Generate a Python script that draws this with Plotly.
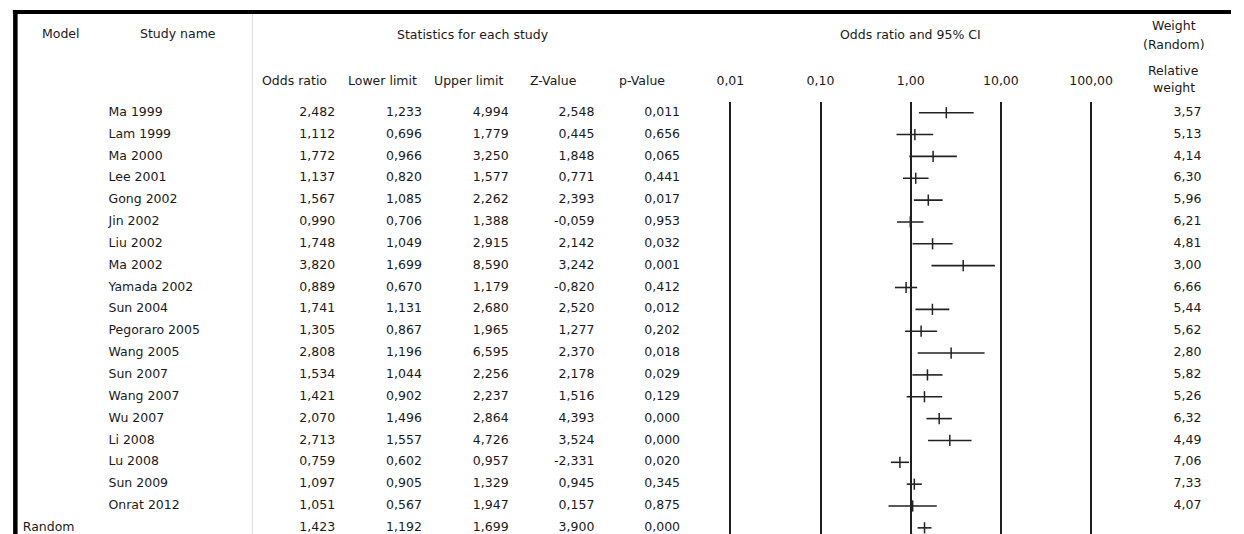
import plotly.graph_objects as go

W, H = 1244, 534

# ---------------- data ----------------
studies = ["Ma 1999", "Lam 1999", "Ma 2000", "Lee 2001", "Gong 2002", "Jin 2002",
           "Liu 2002", "Ma 2002", "Yamada 2002", "Sun 2004", "Pegoraro 2005",
           "Wang 2005", "Sun 2007", "Wang 2007", "Wu 2007", "Li 2008", "Lu 2008",
           "Sun 2009", "Onrat 2012"]
odds_ratio = [2.482, 1.112, 1.772, 1.137, 1.567, 0.990, 1.748, 3.820, 0.889, 1.741,
              1.305, 2.808, 1.534, 1.421, 2.070, 2.713, 0.759, 1.097, 1.051]
lower_limit = [1.233, 0.696, 0.966, 0.820, 1.085, 0.706, 1.049, 1.699, 0.670, 1.131,
               0.867, 1.196, 1.044, 0.902, 1.496, 1.557, 0.602, 0.905, 0.567]
upper_limit = [4.994, 1.779, 3.250, 1.577, 2.262, 1.388, 2.915, 8.590, 1.179, 2.680,
               1.965, 6.595, 2.256, 2.237, 2.864, 4.726, 0.957, 1.329, 1.947]
z_value = [2.548, 0.445, 1.848, 0.771, 2.393, -0.059, 2.142, 3.242, -0.820, 2.520,
           1.277, 2.370, 2.178, 1.516, 4.393, 3.524, -2.331, 0.945, 0.157]
p_value = [0.011, 0.656, 0.065, 0.441, 0.017, 0.953, 0.032, 0.001, 0.412, 0.012,
           0.202, 0.018, 0.029, 0.129, 0.000, 0.000, 0.020, 0.345, 0.875]
rel_weight = [3.57, 5.13, 4.14, 6.30, 5.96, 6.21, 4.81, 3.00, 6.66, 5.44,
              5.62, 2.80, 5.82, 5.26, 6.32, 4.49, 7.06, 7.33, 4.07]

random_label = "Random"
random_or = 1.423
random_lower = 1.192
random_upper = 1.699
random_z = 3.900
random_p = 0.000

tick_vals = [0.01, 0.1, 1, 10, 100]
tick_text = ["0,01", "0,10", "1,00", "10,00", "100,00"]

# ---------------- helpers ----------------
def fmt(v, d=3):
    return f"{v:.{d}f}".replace(".", ",")

def px(x):
    return x / W

def py(y):
    return 1 - y / H

FONT = "DejaVu Sans"
FS = 12.5
TXT = "#1a1a1a"
INK = "#222222"

n = len(studies)
rows = list(range(n))
random_row = n
all_rows = rows + [random_row]

# y geometry: first row centre at 112.7px, spacing 21.85px, plot top at 102px
row_h = 21.85
top_px = 102.0
first_px = 112.7
y_top = -(first_px - top_px) / row_h
y_bot = y_top + (H - top_px) / row_h

fig = go.Figure()

# ---------------- forest plot ----------------
err_plus = [u - o for u, o in zip(upper_limit, odds_ratio)]
err_minus = [o - l for o, l in zip(odds_ratio, lower_limit)]
marker_style = dict(symbol="line-ns-open", size=8, color=INK, line=dict(width=1.5, color=INK))
fig.add_trace(go.Scatter(
    x=odds_ratio, y=rows, mode="markers", xaxis="x", yaxis="y",
    marker=marker_style,
    error_x=dict(type="data", symmetric=False, array=err_plus, arrayminus=err_minus,
                 thickness=1.6, width=0, color=INK),
    cliponaxis=False, hoverinfo="skip"))
fig.add_trace(go.Scatter(
    x=[random_or], y=[random_row], mode="markers", xaxis="x", yaxis="y",
    marker=marker_style,
    error_x=dict(type="data", symmetric=False, array=[random_upper - random_or],
                 arrayminus=[random_or - random_lower], thickness=1.6, width=0, color=INK),
    cliponaxis=False, hoverinfo="skip"))

# ---------------- text columns ----------------
def text_col(xpos, texts, yrows, pos="middle left"):
    fig.add_trace(go.Scatter(
        x=[xpos] * len(texts), y=yrows, text=texts, mode="text", xaxis="x2", yaxis="y",
        textposition=pos, textfont=dict(family=FONT, size=FS, color=TXT),
        cliponaxis=False, hoverinfo="skip"))

text_col(105, studies, rows, "middle right")
text_col(18, [random_label], [random_row], "middle right")
text_col(335, [fmt(v) for v in odds_ratio + [random_or]], all_rows)
text_col(423, [fmt(v) for v in lower_limit + [random_lower]], all_rows)
text_col(511, [fmt(v) for v in upper_limit + [random_upper]], all_rows)
text_col(598, [fmt(v) for v in z_value + [random_z]], all_rows)
text_col(685, [fmt(v) for v in p_value + [random_p]], all_rows)
text_col(1214, [fmt(v, 2) for v in rel_weight], rows)

# ---------------- axes ----------------
dec = 91.5
lo_px = 736 - 0.1 * dec
hi_px = 1102 + 0.1 * dec
fig.update_layout(
    width=W, height=H, margin=dict(l=0, r=0, t=0, b=0),
    paper_bgcolor="white", plot_bgcolor="rgba(0,0,0,0)", showlegend=False,
    xaxis=dict(type="log", range=[-2.1, 2.1], domain=[px(lo_px), px(hi_px)], anchor="y",
               side="top", tickvals=tick_vals, ticktext=tick_text, ticks="",
               showgrid=True, gridcolor="#1e1e1e", gridwidth=1.8, zeroline=False,
               showline=False, ticklabelstandoff=14,
               tickfont=dict(family=FONT, size=FS, color=TXT)),
    xaxis2=dict(range=[0, W], domain=[0, 1], anchor="y", visible=False),
    yaxis=dict(range=[y_bot, y_top], domain=[0, py(top_px)], visible=False),
)

# ---------------- frame ----------------
fig.add_shape(type="line", xref="paper", yref="paper", x0=px(8), x1=1, y0=py(12), y1=py(12),
              line=dict(color="black", width=4))
fig.add_shape(type="line", xref="paper", yref="paper", x0=px(10.5), x1=px(10.5), y0=py(10), y1=0,
              line=dict(color="black", width=4.5))
fig.add_shape(type="line", xref="paper", yref="paper", x0=px(251), x1=px(251), y0=py(14), y1=0,
              line=dict(color="#d9d9d9", width=1))

# ---------------- headers ----------------
headers = [
    ("Model", 57, 33), ("Study name", 176, 33), ("Statistics for each study", 475, 34),
    ("Odds ratio and 95% CI", 919, 34), ("Weight", 1186, 25), ("(Random)", 1186, 45),
    ("Odds ratio", 294, 80), ("Lower limit", 383, 80), ("Upper limit", 470, 80),
    ("Z-Value", 557, 80), ("p-Value", 646, 80), ("Relative", 1186, 70), ("weight", 1186, 88),
]
for t, x, y in headers:
    fig.add_annotation(text=t, x=px(x), y=py(y), xref="paper", yref="paper",
                       xanchor="center", yanchor="middle", showarrow=False,
                       font=dict(family=FONT, size=FS, color=TXT))

fig.write_html("out.html")
